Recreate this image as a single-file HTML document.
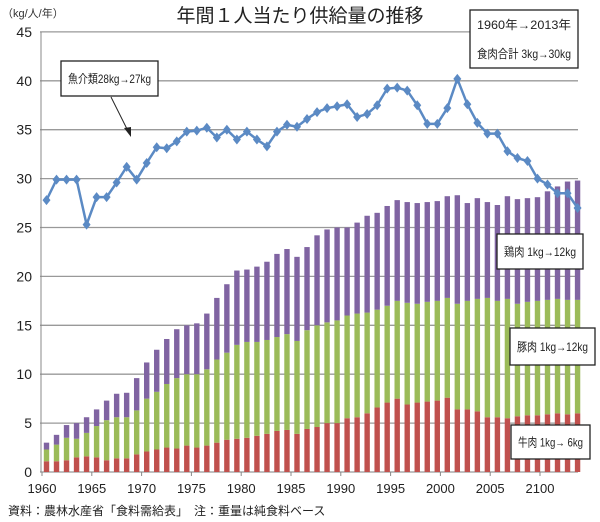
<!DOCTYPE html><html><head><meta charset="utf-8"><style>body{margin:0;background:#fff}svg{display:block;font-family:"Liberation Sans","Noto Sans CJK JP",sans-serif}</style></head><body>
<svg id="s" width="600" height="522" xmlns="http://www.w3.org/2000/svg"></svg>
<script>
const b=[1.1,1.1,1.2,1.5,1.6,1.5,1.2,1.4,1.4,1.8,2.1,2.3,2.5,2.4,2.7,2.5,2.7,3.0,3.3,3.4,3.5,3.7,3.9,4.2,4.3,3.9,4.4,4.6,5.0,5.0,5.5,5.6,6.0,6.6,7.1,7.5,6.9,7.1,7.2,7.3,7.6,6.4,6.4,6.2,5.6,5.6,5.5,5.7,5.8,5.8,5.9,6.0,5.9,6.0];
const p=[2.3,2.8,3.5,3.4,4.0,4.7,5.3,5.6,5.6,6.3,7.5,8.2,9.0,9.6,10.0,10.0,10.5,11.5,12.2,13.0,13.3,13.3,13.5,13.8,14.1,13.4,14.5,15,15.3,15.5,16,16.2,16.3,16.6,17,17.5,17.3,17.2,17.4,17.5,17.8,17.2,17.5,17.7,17.8,17.5,17.7,17.2,17.4,17.5,17.6,17.7,17.6,17.6];
const t=[3.0,3.8,4.8,5.0,5.6,6.4,7.3,8.0,8.1,9.6,11.2,12.5,13.6,14.6,15.0,15.2,16.2,17.8,19.2,20.6,20.7,21.0,21.5,22.3,22.8,22.0,23.0,24.2,24.8,25.0,25.0,25.5,26.2,26.5,27.2,27.8,27.6,27.5,27.6,27.7,28.2,28.3,27.5,28.0,27.6,27.3,28.2,27.9,28.0,28.1,28.7,29.2,29.7,29.8];
const f=[27.8,29.9,29.9,29.9,25.3,28.1,28.1,29.6,31.2,29.9,31.6,33.2,33.1,33.8,34.8,34.9,35.2,34.2,35.0,34.0,34.8,34.0,33.3,34.8,35.5,35.3,36.1,36.8,37.2,37.4,37.6,36.3,36.6,37.5,39.2,39.3,39.0,37.5,35.6,35.6,37.2,40.2,37.6,35.7,34.6,34.6,32.8,32.1,31.8,30.0,29.4,28.5,28.5,27.0];
const Y=v=>472-v*9.78,X=i=>46.5+i*10.02;
let h='<text x="300" y="22" font-size="19" text-anchor="middle" fill="#222">年間１人当たり供給量の推移</text>';
h+='<text x="2" y="17" font-size="11" fill="#333">（kg/人/年）</text>';
for(let v=0;v<=45;v+=5){let y=Y(v);h+=`<line x1="40" x2="578" y1="${y}" y2="${y}" stroke="#999" stroke-width="1.3"/><text x="32" y="${y+5}" font-size="14" text-anchor="end" fill="#222">${v}</text>`}
h+='<line x1="41" x2="41" y1="32" y2="472" stroke="#888"/>';
for(let i=0;i<54;i++){let x=X(i)-2.7;
h+=`<rect x="${x}" y="${Y(b[i])}" width="5.4" height="${b[i]*9.78}" fill="#c0504d"/>`;
h+=`<rect x="${x}" y="${Y(p[i])}" width="5.4" height="${(p[i]-b[i])*9.78}" fill="#9bbb59"/>`;
h+=`<rect x="${x}" y="${Y(t[i])}" width="5.4" height="${(t[i]-p[i])*9.78}" fill="#8064a2"/>`;}
const lab=['1960','1965','1970','1975','1980','1985','1990','1995','2000','2005','2100'];
lab.forEach((l,k)=>{let x=42+k*49.8;h+=`<line x1="${x}" x2="${x}" y1="472" y2="476" stroke="#888"/><text x="${x}" y="493" font-size="13" text-anchor="middle" fill="#222">${l}</text>`});
h+=`<polyline fill="none" stroke="#5b8ac4" stroke-width="2.5" points="${f.map((v,i)=>X(i)+','+Y(v)).join(' ')}"/>`;
f.forEach((v,i)=>{let x=X(i),y=Y(v);h+=`<polygon points="${x},${y-5} ${x+4},${y} ${x},${y+5} ${x-4},${y}" fill="#5b8ac4"/>`});
h+='<line x1="111" y1="97" x2="129" y2="133" stroke="#222"/><polygon points="131,137 124,128 131,127" fill="#222"/>';
const box=(x,y,w,hh,lines,fs)=>{h+=`<rect x="${x}" y="${y}" width="${w}" height="${hh}" fill="#fff" stroke="#222" stroke-width="1.3"/>`;lines.forEach((l,k)=>{h+=`<text x="${x+w/2}" y="${y+(hh/(lines.length))*(k+0.5)+4.5}" font-size="${fs}" text-anchor="middle" fill="#222" textLength="${w-14}" lengthAdjust="spacingAndGlyphs">${l}</text>`})};
box(61,61,97,35,['魚介類28kg→27kg'],12);
box(470,10,108,58,['1960年→2013年','食肉合計 3kg→30kg'],12);
box(497,234,86,35,['鶏肉 1kg→12kg'],12);
box(510,328,85,37,['豚肉 1kg→12kg'],12);
box(511,425,79,34,['牛肉 1kg→ 6kg'],12);
h+='<text x="8" y="515" font-size="12" fill="#222">資料：農林水産省「食料需給表」　注：重量は純食料ベース</text>';
document.getElementById('s').innerHTML=h;
</script></body></html>
